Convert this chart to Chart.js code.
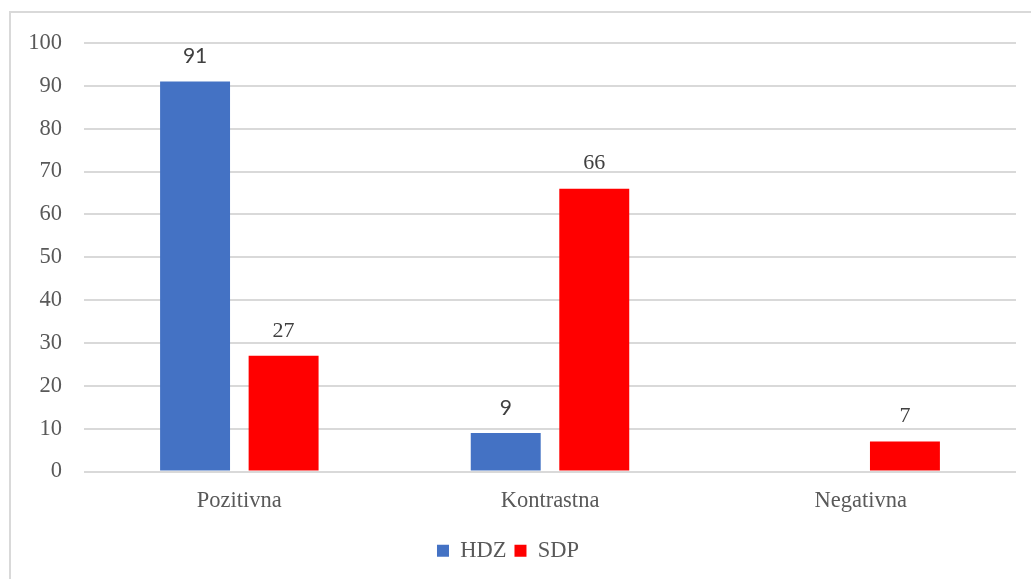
<!DOCTYPE html>
<html>
<head>
<meta charset="utf-8">
<script src="https://cdn.jsdelivr.net/npm/chart.js@4/dist/chart.umd.min.js"></script>
<style>
  html, body { margin: 0; padding: 0; background: #fff; }
  #wrap { width: 1031px; height: 579px; position: relative; }
</style>
</head>
<body>
<div id="wrap"><canvas id="chart"></canvas></div>
<script>
const categories = ['Pozitivna', 'Kontrastna', 'Negativna'];
const hdzValues = [91, 9, null];
const sdpValues = [27, 66, 7];
const yTicks = [0, 10, 20, 30, 40, 50, 60, 70, 80, 90, 100];

const serif = "'Liberation Serif', 'Times New Roman', Times, 'DejaVu Serif', serif";

// frame lines (left + top) like the exported office chart
const framePlugin = {
  id: 'frame',
  beforeDraw(chart) {
    const ctx = chart.ctx;
    ctx.save();
    ctx.strokeStyle = '#d9d9d9';
    ctx.lineWidth = 2;
    ctx.beginPath();
    ctx.moveTo(10, 579);
    ctx.lineTo(10, 12);
    ctx.lineTo(1031, 12);
    ctx.stroke();
    ctx.restore();
  }
};

// value labels above bars
const valueLabels = {
  id: 'valueLabels',
  afterDatasetsDraw(chart) {
    const ctx = chart.ctx;
    ctx.save();
    ctx.textAlign = 'center';
    ctx.textBaseline = 'middle';
    ctx.fillStyle = '#404040';
    chart.data.datasets.forEach((ds, i) => {
      const meta = chart.getDatasetMeta(i);
      ctx.font = i === 0 ? "21px Lato, 'Open Sans', sans-serif" : '22px ' + serif;
      meta.data.forEach((bar, j) => {
        const v = ds.data[j];
        if (v === null || v === undefined) return;
        ctx.fillText(String(v), bar.x, bar.y - 25);
      });
    });
    ctx.restore();
  }
};

new Chart(document.getElementById('chart'), {
  type: 'bar',
  data: {
    labels: categories,
    datasets: [
      { label: 'HDZ', data: hdzValues, backgroundColor: '#4472C4' },
      { label: 'SDP', data: sdpValues, backgroundColor: '#FF0000' }
    ]
  },
  options: {
    responsive: true,
    maintainAspectRatio: false,
    animation: false,
    categoryPercentage: 0.57,
    barPercentage: 0.79,
    layout: { padding: { top: 43, right: 15, bottom: 7, left: 0 } },
    scales: {
      x: {
        grid: { display: false },
        border: { display: false },
        ticks: {
          color: '#595959',
          font: { family: serif, size: 22.5 },
          padding: 8
        },
        afterFit(s) { s.height = 60; }
      },
      y: {
        min: 0,
        max: 100,
        afterBuildTicks(s) { s.ticks = yTicks.map(v => ({ value: v })); },
        grid: { color: '#d9d9d9', lineWidth: 2, drawTicks: false },
        border: { display: false },
        ticks: {
          color: '#595959',
          font: { family: serif, size: 22.5 },
          padding: 22
        },
        afterFit(s) { s.width = 84; }
      }
    },
    plugins: {
      legend: {
        position: 'bottom',
        labels: {
          color: '#595959',
          font: { family: serif, size: 22.5 },
          boxWidth: 12,
          boxHeight: 12,
          padding: 8
        }
      },
      tooltip: { enabled: false }
    }
  },
  plugins: [framePlugin, valueLabels]
});
</script>
</body>
</html>
